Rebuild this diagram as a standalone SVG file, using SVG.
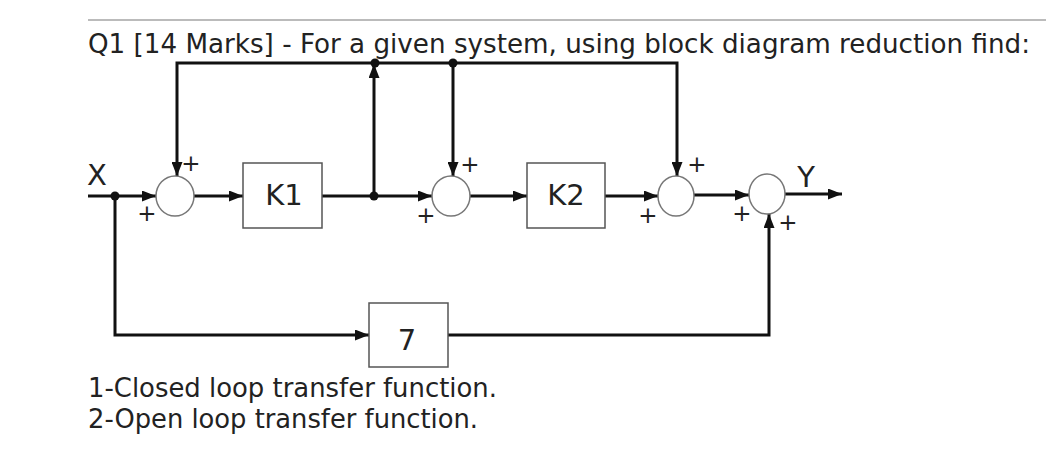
<svg xmlns="http://www.w3.org/2000/svg" width="1046" height="459" viewBox="0 0 1046 459">
<style>
.t{font-family:"DejaVu Sans",Verdana,sans-serif;fill:#222}
.q{font-size:26px}
.lbl{font-size:29px;text-anchor:middle}
.pl{font-size:23px;text-anchor:middle}
.w{fill:none;stroke:#111;stroke-width:3}
.blk{fill:#fff;stroke:#555;stroke-width:1.5}
.sum{fill:#fff;stroke:#777;stroke-width:1.5}
.dot{fill:#111}
</style>
<defs>
<marker id="ah" viewBox="0 0 14 11" refX="14" refY="5.5" markerWidth="14" markerHeight="11" markerUnits="userSpaceOnUse" orient="auto">
<path d="M0,0 L14,5.5 L0,11 Z" fill="#111"/>
</marker>
</defs>
<rect width="1046" height="459" fill="#fff"/>
<line x1="88" y1="20" x2="1046" y2="20" stroke="#bbb" stroke-width="2"/>
<text class="t q" x="88" y="53" textLength="942" lengthAdjust="spacingAndGlyphs">Q1 [14 Marks] - For a given system, using block diagram reduction find:</text>

<g id="connectors">
<path class="w" d="M88,196 H156" marker-end="url(#ah)"/>
<path class="w" d="M194,196 H243" marker-end="url(#ah)"/>
<path class="w" d="M322,196 H432" marker-end="url(#ah)"/>
<path class="w" d="M374,196 V64" marker-end="url(#ah)"/>
<path class="w" d="M374,63 H177 V176" marker-end="url(#ah)"/>
<path class="w" d="M374,63 H677 V176" marker-end="url(#ah)"/>
<path class="w" d="M453,63 V176" marker-end="url(#ah)"/>
<path class="w" d="M470,196 H527" marker-end="url(#ah)"/>
<path class="w" d="M605,196 H658" marker-end="url(#ah)"/>
<path class="w" d="M694,195 H749" marker-end="url(#ah)"/>
<path class="w" d="M785,194 H842" marker-end="url(#ah)"/>
<path class="w" d="M115,196 V335 H369" marker-end="url(#ah)"/>
<path class="w" d="M448,335 H769 V214" marker-end="url(#ah)"/>
<circle class="dot" cx="115" cy="196" r="4.5"/>
<circle class="dot" cx="374" cy="196" r="4.5"/>
<circle class="dot" cx="375" cy="63" r="4.5"/>
<circle class="dot" cx="453" cy="63" r="4.5"/>
</g>

<g id="sum1"><ellipse class="sum" cx="175" cy="196" rx="19" ry="20"/>
<text class="t pl" x="191" y="171">+</text><text class="t pl" x="147" y="221">+</text></g>
<g id="K1"><rect class="blk" x="243" y="163" width="79" height="65"/><text class="t lbl" x="284" y="205">K1</text></g>
<g id="sum2"><ellipse class="sum" cx="451" cy="196" rx="19" ry="20"/>
<text class="t pl" x="470" y="172">+</text><text class="t pl" x="426" y="223">+</text></g>
<g id="K2"><rect class="blk" x="527" y="163" width="78" height="65"/><text class="t lbl" x="566" y="205">K2</text></g>
<g id="sum3"><ellipse class="sum" cx="676" cy="196" rx="18" ry="20"/>
<text class="t pl" x="697" y="172">+</text><text class="t pl" x="648" y="223">+</text></g>
<g id="sum4"><ellipse class="sum" cx="767" cy="194" rx="18" ry="20"/>
<text class="t pl" x="742" y="221">+</text><text class="t pl" x="788" y="230">+</text></g>
<g id="G7"><rect class="blk" x="369" y="303" width="79" height="64"/><text class="t lbl" x="407" y="350">7</text></g>
<g id="X"><text class="t lbl" x="97" y="185">X</text></g>
<g id="Y"><text class="t lbl" x="806" y="187">Y</text></g>

<text class="t q" x="88" y="397" textLength="409" lengthAdjust="spacingAndGlyphs">1-Closed loop transfer function.</text>
<text class="t q" x="88" y="428" textLength="390" lengthAdjust="spacingAndGlyphs">2-Open loop transfer function.</text>
</svg>
